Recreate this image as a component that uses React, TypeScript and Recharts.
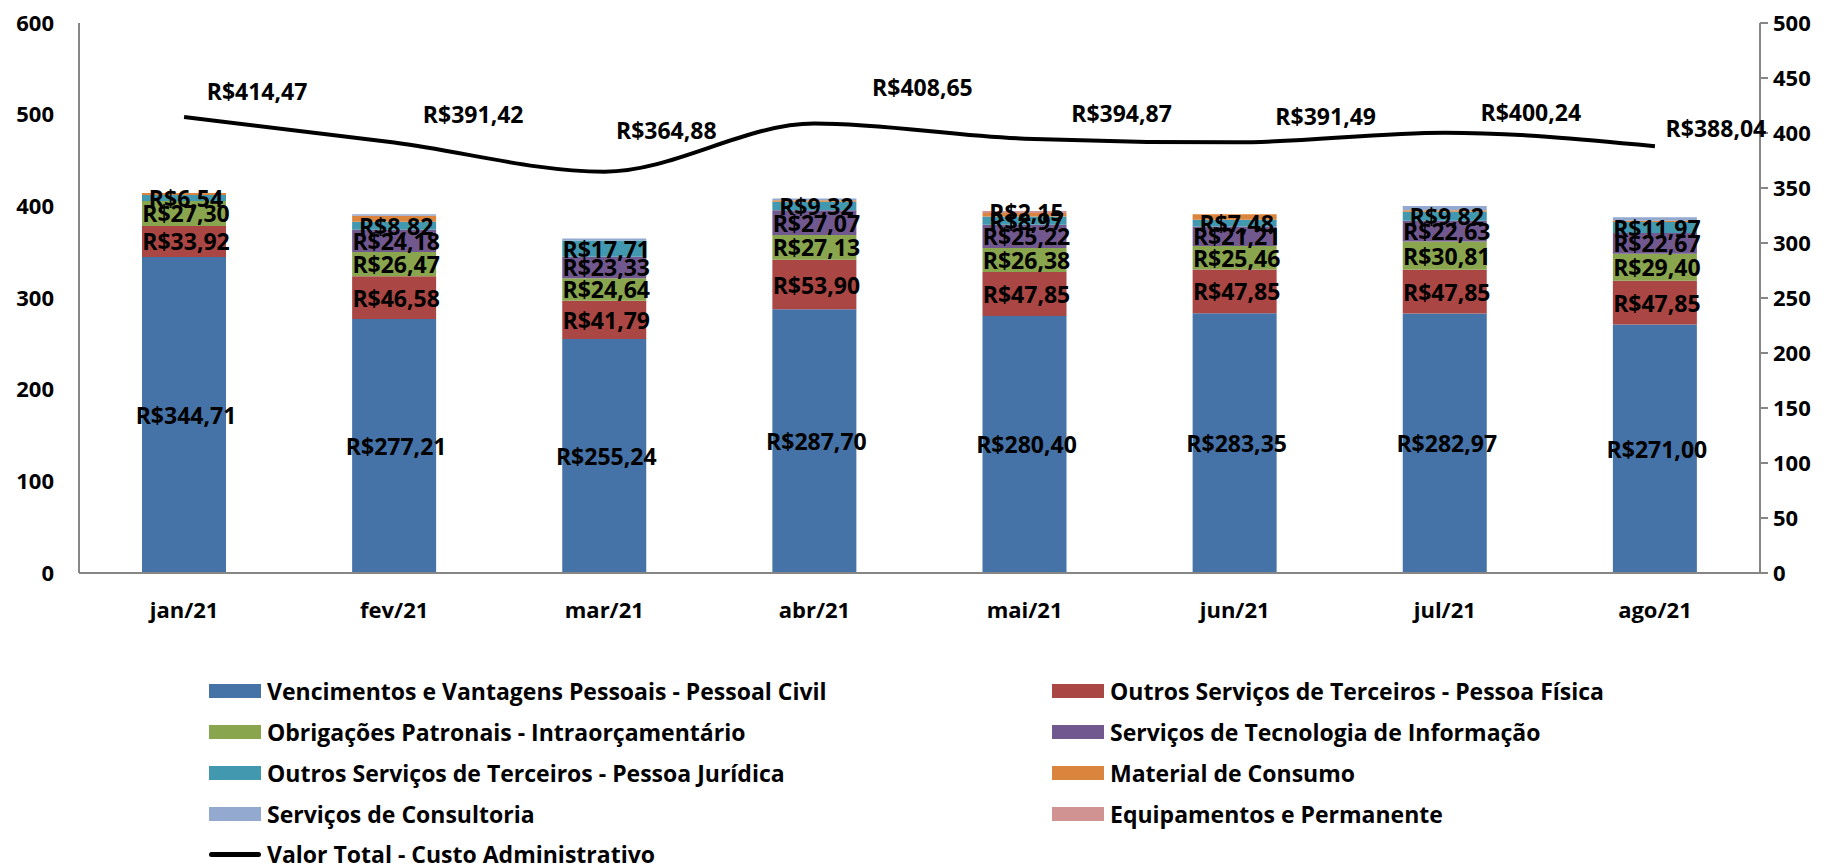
import React from "react";
import { ComposedChart, Bar, Line, XAxis, YAxis, LabelList } from "recharts";

const meses = ["jan/21", "fev/21", "mar/21", "abr/21", "mai/21", "jun/21", "jul/21", "ago/21"];

const vencimentos = [344.71, 277.21, 255.24, 287.7, 280.4, 283.35, 282.97, 271.0];
const outrosPF = [33.92, 46.58, 41.79, 53.9, 47.85, 47.85, 47.85, 47.85];
const obrigacoes = [27.3, 26.47, 24.64, 27.13, 26.38, 25.46, 30.81, 29.4];
const tecnologia = [0, 24.18, 23.33, 27.07, 25.22, 21.21, 22.63, 22.67];
const outrosPJ = [6.54, 8.82, 17.71, 9.32, 8.97, 7.48, 9.82, 11.97];
const consumo = [2.0, 6.5, 0, 1.5, 3.9, 6.14, 1.66, 1.5];
const consultoria = [0, 1.66, 2.17, 2.03, 0, 0, 4.5, 3.65];
const equipamentos = [0, 0, 0, 0, 2.15, 0, 0, 0];
const valorTotal = [414.47, 391.42, 364.88, 408.65, 394.87, 391.49, 400.24, 388.04];

const leftTicks = [0, 100, 200, 300, 400, 500, 600];
const rightTicks = [0, 50, 100, 150, 200, 250, 300, 350, 400, 450, 500];

// where the total labels sit relative to their point (px), as placed in the original
const totalLabelShift = [
  [73, -26], [79, -28], [62, -42], [108, -36], [97, -26], [91, -26], [86, -21], [61, -18],
];

const FONT = "'Open Sans', 'Noto Sans', sans-serif";
const AXIS_COLOR = "#868686";

const series = [
  { key: "vencimentos", name: "Vencimentos e Vantagens Pessoais - Pessoal Civil", color: "#4572A7", label: true },
  { key: "outrosPF", name: "Outros Serviços de Terceiros - Pessoa Física", color: "#AA4643", label: true },
  { key: "obrigacoes", name: "Obrigações Patronais - Intraorçamentário", color: "#89A54E", label: true },
  { key: "tecnologia", name: "Serviços de Tecnologia de Informação", color: "#71588F", label: true },
  { key: "outrosPJ", name: "Outros Serviços de Terceiros - Pessoa Jurídica", color: "#4198AF", label: true },
  { key: "consumo", name: "Material de Consumo", color: "#DB843D", label: false },
  { key: "consultoria", name: "Serviços de Consultoria", color: "#93A9CF", label: false },
  { key: "equipamentos", name: "Equipamentos e Permanente", color: "#D19392", label: true },
];

const data = meses.map((mes, i) => ({
  mes,
  vencimentos: vencimentos[i],
  outrosPF: outrosPF[i],
  obrigacoes: obrigacoes[i],
  tecnologia: tecnologia[i],
  outrosPJ: outrosPJ[i],
  consumo: consumo[i],
  consultoria: consultoria[i],
  equipamentos: equipamentos[i],
  total: valorTotal[i],
}));

const brl = (v: number) => "R$" + v.toFixed(2).replace(".", ",");

const BarValue = (props: any) => {
  const { x, y, width, height, value } = props;
  if (!value) return null;
  return (
    <text
      x={x + width / 2 + 2}
      y={y + height / 2}
      textAnchor="middle"
      dominantBaseline="central"
      fontFamily={FONT}
      fontWeight={700}
      fontSize={23}
      fill="#000"
    >
      {brl(value)}
    </text>
  );
};

const LineValue = (props: any) => {
  const { x, y, value, index } = props;
  const [dx, dy] = totalLabelShift[index] || [80, -28];
  return (
    <text
      x={x + dx}
      y={y + dy}
      textAnchor="middle"
      dominantBaseline="central"
      fontFamily={FONT}
      fontWeight={700}
      fontSize={23}
      fill="#000"
    >
      {brl(value)}
    </text>
  );
};

const tickStyle = { fontFamily: FONT, fontWeight: 700, fontSize: 22, fill: "#000" };

const legendItem = {
  position: "absolute" as const,
  height: 28,
  display: "flex",
  alignItems: "center",
  fontFamily: FONT,
  fontWeight: 700,
  fontSize: 23,
  color: "#000",
  whiteSpace: "nowrap" as const,
};

export default function App() {
  const legendRows = [
    [series[0], series[1]],
    [series[2], series[3]],
    [series[4], series[5]],
    [series[6], series[7]],
  ];
  return (
    <div style={{ position: "absolute", left: 0, top: 0, width: 1831, height: 864, background: "#fff", overflow: "hidden" }}>
      <ComposedChart
        width={1831}
        height={650}
        data={data}
        margin={{ top: 23, right: 0, bottom: 0, left: 0 }}
      >
        <XAxis
          dataKey="mes"
          tickLine={false}
          tickSize={0}
          tickMargin={29}
          height={77}
          stroke={AXIS_COLOR}
          strokeWidth={2}
          tick={tickStyle}
        />
        <YAxis
          yAxisId="left"
          domain={[0, 600]}
          ticks={leftTicks}
          width={79}
          tickLine={false}
          tickSize={0}
          tickMargin={25}
          stroke={AXIS_COLOR}
          strokeWidth={2}
          tick={tickStyle}
        />
        <YAxis
          yAxisId="right"
          orientation="right"
          domain={[0, 500]}
          ticks={rightTicks}
          width={71}
          tickSize={8}
          tickMargin={5}
          stroke={AXIS_COLOR}
          strokeWidth={2}
          tick={tickStyle}
        />
        {series.map((s) => (
          <Bar
            key={s.key}
            yAxisId="left"
            dataKey={s.key}
            stackId="a"
            fill={s.color}
            barSize={84}
            isAnimationActive={false}
          >
            {s.label && <LabelList dataKey={s.key} content={BarValue} />}
          </Bar>
        ))}
        <Line
          yAxisId="right"
          dataKey="total"
          type="monotone"
          stroke="#000"
          strokeWidth={4}
          dot={false}
          isAnimationActive={false}
        >
          <LabelList dataKey="total" content={LineValue} />
        </Line>
      </ComposedChart>

      {legendRows.map((row, r) =>
        row.map((s, c) => (
          <div key={s.key} style={{ ...legendItem, left: c === 0 ? 209 : 1052, top: 691 + r * 41 - 14 }}>
            <span style={{ display: "inline-block", width: 52, height: 14, background: s.color, marginRight: 6 }} />
            {s.name}
          </div>
        ))
      )}
      <div style={{ ...legendItem, left: 209, top: 854 - 14 }}>
        <span style={{ display: "inline-block", width: 52, height: 5, borderRadius: 3, background: "#000", marginRight: 6 }} />
        Valor Total - Custo Administrativo
      </div>
    </div>
  );
}
